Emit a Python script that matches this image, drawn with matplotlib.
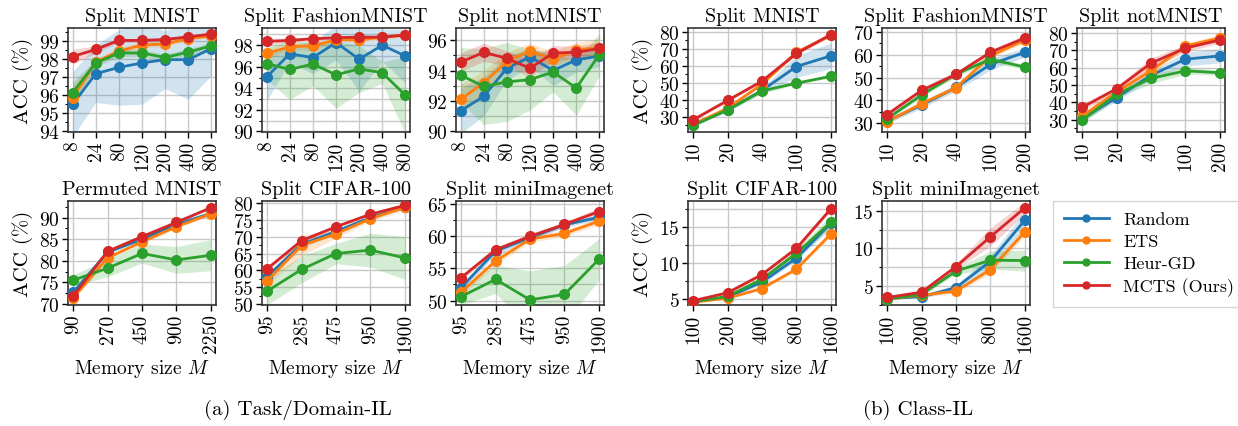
import matplotlib
matplotlib.use('Agg')
import matplotlib.pyplot as plt
import numpy as np
from matplotlib.ticker import MultipleLocator, AutoMinorLocator

plt.rcParams['font.family'] = ['cmr10', 'DejaVu Serif']
plt.rcParams['mathtext.fontset'] = 'cm'
plt.rcParams['axes.formatter.use_mathtext'] = True

methods = ['Random', 'ETS', 'Heur-GD', 'MCTS (Ours)']
colors = ['#1f77b4', '#ff7f0e', '#2ca02c', '#d62728']

# x tick labels
mem_small = ['8', '24', '80', '120', '200', '400', '800']
mem_pmnist = ['90', '270', '450', '900', '2250']
mem_cifar_t = ['95', '285', '475', '950', '1900']
mem_class_small = ['10', '20', '40', '100', '200']
mem_class_big = ['100', '200', '400', '800', '1600']

# Task/Domain-IL : rows = Random, ETS, Heur-GD, MCTS
t_mnist = [[95.5, 97.2, 97.55, 97.8, 97.98, 97.98, 98.6],
           [95.85, 97.85, 98.45, 98.8, 98.85, 99.15, 99.3],
           [96.15, 97.8, 98.35, 98.35, 98.1, 98.4, 98.75],
           [98.15, 98.55, 99.05, 99.05, 99.1, 99.25, 99.4]]
t_mnist_std = [[1.8, 1.6, 2.1, 2.3, 1.6, 2.2, 1.5],
               [0.7, 0.15, 0.2, 0.15, 0.15, 0.1, 0.1],
               [0.6, 0.2, 0.2, 0.2, 0.2, 0.2, 0.2],
               [0.4, 0.2, 0.1, 0.1, 0.1, 0.1, 0.1]]

t_fashion = [[95.05, 97.2, 96.85, 98.25, 96.7, 98.0, 97.0],
             [97.25, 97.85, 97.95, 98.5, 98.5, 98.75, 98.95],
             [96.3, 95.75, 96.25, 95.25, 95.8, 95.45, 93.35],
             [98.35, 98.45, 98.6, 98.7, 98.75, 98.75, 98.95]]
t_fashion_std = [[2.2, 0.8, 1.5, 1.6, 3.0, 1.5, 2.5],
                 [0.5, 0.3, 0.4, 0.2, 0.2, 0.2, 0.2],
                 [1.5, 2.8, 2.0, 3.1, 2.2, 1.0, 3.6],
                 [0.3, 0.2, 0.2, 0.1, 0.1, 0.1, 0.1]]

t_notmnist = [[91.35, 92.3, 94.15, 94.9, 94.0, 94.7, 94.95],
              [92.1, 93.2, 94.6, 95.3, 94.75, 95.35, 95.5],
              [93.7, 92.95, 93.25, 93.4, 93.9, 92.85, 95.05],
              [94.55, 95.2, 94.8, 94.15, 95.15, 95.2, 95.45]]
t_notmnist_std = [[1.5, 1.3, 0.8, 0.6, 1.0, 0.8, 0.7],
                  [1.0, 0.8, 0.6, 0.5, 0.5, 0.5, 0.6],
                  [1.8, 2.5, 2.6, 2.0, 1.3, 1.8, 1.4],
                  [0.6, 0.6, 0.5, 0.6, 0.5, 0.4, 0.4]]

t_pmnist = [[72.7, 82.0, 85.0, 88.4, 91.0],
            [71.4, 80.7, 84.4, 87.9, 90.9],
            [75.5, 78.3, 81.7, 80.2, 81.3],
            [71.8, 82.2, 85.6, 88.9, 92.3]]
t_pmnist_std = [[0.5, 0.4, 0.4, 0.4, 0.4],
                [0.5, 0.5, 0.4, 0.4, 0.4],
                [1.3, 2.0, 2.2, 3.1, 3.6],
                [0.4, 0.3, 0.3, 0.3, 0.3]]

t_cifar = [[58.2, 67.7, 71.5, 75.6, 78.7],
           [56.9, 67.4, 70.8, 75.3, 78.6],
           [53.9, 60.3, 65.0, 66.0, 63.7],
           [60.5, 68.8, 72.9, 76.6, 79.2]]
t_cifar_std = [[1.0, 1.0, 0.8, 0.6, 0.5],
               [1.2, 3.0, 1.2, 0.8, 0.8],
               [4.0, 4.0, 3.0, 5.0, 6.3],
               [0.6, 0.5, 0.5, 0.4, 0.4]]

t_mini = [[52.0, 57.7, 59.8, 61.8, 62.95],
          [51.3, 56.15, 59.55, 60.45, 62.35],
          [50.6, 53.3, 50.1, 50.95, 56.4],
          [53.55, 57.9, 60.0, 61.85, 63.85]]
t_mini_std = [[0.5, 0.6, 0.5, 0.4, 0.4],
              [0.6, 0.6, 0.5, 0.5, 0.5],
              [1.3, 2.2, 4.5, 4.5, 3.2],
              [0.4, 0.4, 0.4, 0.4, 0.6]]

# Class-IL
c_mnist = [[25.4, 34.0, 45.5, 59.6, 65.9],
           [25.5, 35.0, 49.2, 68.0, 78.0],
           [24.9, 34.0, 45.2, 49.8, 53.8],
           [28.2, 39.6, 51.0, 67.3, 78.4]]
c_mnist_std = [[0.8, 1.0, 1.5, 6.5, 7.5],
               [0.8, 0.8, 1.0, 1.0, 1.0],
               [0.8, 0.8, 1.5, 0.8, 0.8],
               [0.8, 0.8, 1.0, 1.0, 1.0]]

c_fashion = [[30.8, 37.9, 45.6, 55.8, 61.1],
             [30.5, 38.5, 45.5, 59.5, 66.5],
             [31.9, 42.3, 51.5, 58.0, 54.6],
             [33.7, 44.3, 51.4, 61.1, 67.4]]
c_fashion_std = [[1.0, 1.5, 1.5, 2.5, 2.0],
                 [1.0, 1.0, 1.0, 1.0, 1.2],
                 [1.0, 1.0, 1.0, 1.5, 1.0],
                 [1.2, 1.5, 1.2, 1.2, 1.5]]

c_notmnist = [[30.5, 42.7, 55.6, 64.9, 66.8],
              [32.0, 46.0, 58.2, 72.6, 77.1],
              [29.7, 44.7, 53.8, 58.2, 57.1],
              [37.1, 47.8, 62.6, 71.3, 76.0]]
c_notmnist_std = [[1.5, 2.0, 2.0, 4.0, 4.0],
                  [2.0, 2.0, 2.0, 1.5, 2.0],
                  [2.0, 2.0, 3.0, 2.0, 1.5],
                  [2.0, 1.5, 3.0, 2.0, 2.0]]

c_cifar = [[4.55, 5.2, 7.3, 10.65, 15.5],
           [4.5, 5.05, 6.4, 9.1, 14.0],
           [4.55, 5.3, 7.7, 11.3, 15.65],
           [4.7, 5.8, 8.35, 12.0, 17.5]]
c_cifar_std = [[0.1, 0.2, 0.3, 0.4, 0.5],
               [0.1, 0.1, 0.2, 0.2, 0.3],
               [0.1, 0.2, 0.3, 0.6, 0.9],
               [0.1, 0.2, 0.2, 0.3, 0.3]]

c_mini = [[3.35, 3.6, 4.8, 8.3, 13.75],
          [3.3, 3.8, 4.35, 7.2, 12.2],
          [3.3, 3.9, 7.0, 8.45, 8.4],
          [3.5, 4.2, 7.6, 11.55, 15.4]]
c_mini_std = [[0.1, 0.2, 0.4, 0.8, 1.2],
              [0.1, 0.2, 0.3, 0.5, 0.6],
              [0.1, 0.2, 0.4, 1.2, 1.4],
              [0.1, 0.2, 0.4, 1.2, 0.8]]

# (title, xlabels, means, stds, ylim, major step, minor grid, pixel left/top, ylabel?, xlabel?)
panels = [
    ('Split MNIST', mem_small, t_mnist, t_mnist_std, (93.96, 99.74), 1, False, 68, 29, True, False),
    ('Split FashionMNIST', mem_small, t_fashion, t_fashion_std, (89.94, 99.6), 2, True, 262, 29, False, False),
    ('Split notMNIST', mem_small, t_notmnist, t_notmnist_std, (89.95, 96.8), 2, True, 456, 29, False, False),
    ('Permuted MNIST', mem_pmnist, t_pmnist, t_pmnist_std, (69.77, 93.85), 5, False, 68, 202, True, True),
    ('Split CIFAR-100', mem_cifar_t, t_cifar, t_cifar_std, (49.8, 80.5), 5, False, 262, 202, False, True),
    ('Split miniImagenet', mem_cifar_t, t_mini, t_mini_std, (49.3, 65.5), 5, True, 456, 202, False, True),
    ('Split MNIST', mem_class_small, c_mnist, c_mnist_std, (21, 82.3), 10, False, 688, 29, True, False),
    ('Split FashionMNIST', mem_class_small, c_fashion, c_fashion_std, (26, 71.8), 10, False, 882, 29, False, False),
    ('Split notMNIST', mem_class_small, c_notmnist, c_notmnist_std, (22.9, 82.9), 10, False, 1077, 29, False, False),
    ('Split CIFAR-100', mem_class_big, c_cifar, c_cifar_std, (4.1, 18.6), 5, True, 688, 202, True, True),
    ('Split miniImagenet', mem_class_big, c_mini, c_mini_std, (2.5, 16.3), 5, True, 882, 202, False, True),
]

W, H = 1238, 427
fig = plt.figure(figsize=(W / 100, H / 100), dpi=100)
aw, ah = 148, 104

for title, xl, means, stds, ylim, step, mgrid, px, py, ylab, xlab in panels:
    ax = fig.add_axes([px / W, 1 - (py + ah) / H, aw / W, ah / H])
    x = np.arange(len(xl))
    for m, s, c in zip(means, stds, colors):
        m = np.array(m)
        s = np.array(s)
        ax.fill_between(x, m - s, m + s, color=c, alpha=0.2, lw=0)
        ax.plot(x, m, '-o', color=c, lw=2, ms=7, zorder=3)
    n = len(xl)
    pad = 0.2 if n == 7 else 0.15
    ax.set_xlim(-pad, n - 1 + pad)
    ax.set_ylim(*ylim)
    ax.set_xticks(x)
    ax.set_xticklabels(xl, rotation=90)
    ax.yaxis.set_major_locator(MultipleLocator(step))
    ax.yaxis.set_minor_locator(AutoMinorLocator(2))
    ax.grid(True, which='major', color='#c8c8c8', lw=1)
    if mgrid:
        ax.grid(True, which='minor', axis='y', color='#c8c8c8', lw=1)
    ax.set_axisbelow(True)
    ax.tick_params(labelsize=14, length=4, width=1, pad=2)
    ax.tick_params(which='minor', length=2.5, width=0.8)
    for sp in ax.spines.values():
        sp.set_color('#333333')
        sp.set_linewidth(1.2)
    ax.set_title(title, fontsize=14.5, pad=5)
    if ylab:
        ax.set_ylabel('ACC (%)', fontsize=15, labelpad=4)
    if xlab:
        ax.set_xlabel('Memory size $M$', fontsize=14, labelpad=3)

handles = [plt.Line2D([], [], color=c, marker='o', lw=2, ms=5) for c in colors]
fig.legend(handles, methods, loc='upper left', bbox_to_anchor=(1053 / W, 1 - 202 / H),
           borderaxespad=0, fontsize=13, frameon=True, fancybox=False,
           edgecolor='#cccccc', handlelength=2.5, labelspacing=0.35, borderpad=0.6)

fig.text(298 / W, 1 - 410 / H, '(a) Task/Domain-IL', ha='center', va='center', fontsize=15)
fig.text(918 / W, 1 - 410 / H, '(b) Class-IL', ha='center', va='center', fontsize=15)

fig.savefig('out.png', dpi=100)
